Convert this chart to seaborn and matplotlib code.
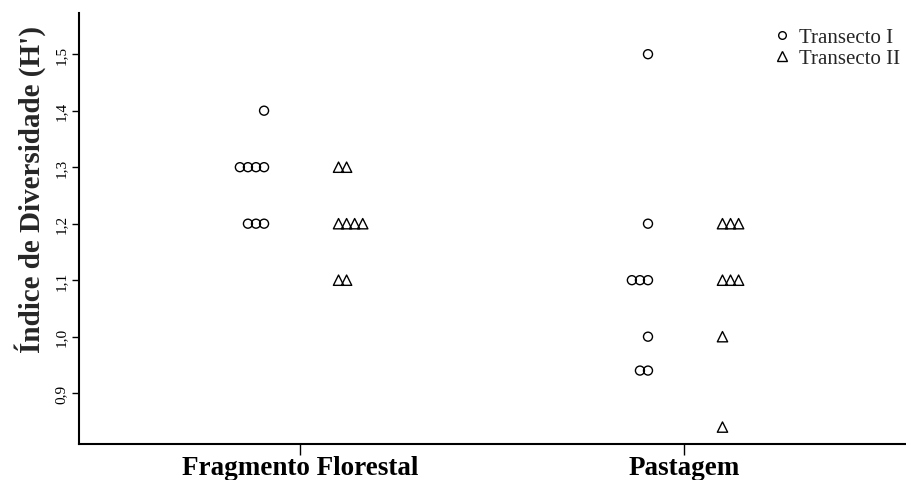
import numpy as np
import pandas as pd
import matplotlib
matplotlib.use("Agg")
import matplotlib.pyplot as plt
import seaborn as sns
from matplotlib.lines import Line2D

# ---- data ----
categories = ["Fragmento Florestal", "Pastagem"]
transects = ["Transecto I", "Transecto II"]
frag_t1 = [1.4, 1.3, 1.3, 1.3, 1.3, 1.2, 1.2, 1.2]
frag_t2 = [1.3, 1.3, 1.2, 1.2, 1.2, 1.2, 1.1, 1.1]
past_t1 = [1.5, 1.2, 1.1, 1.1, 1.1, 1.0, 0.94, 0.94]
past_t2 = [1.2, 1.2, 1.2, 1.1, 1.1, 1.1, 1.0, 0.84]
yticks = [0.9, 1.0, 1.1, 1.2, 1.3, 1.4, 1.5]
ytick_labels = ["0,9", "1,0", "1,1", "1,2", "1,3", "1,4", "1,5"]
ylabel = "Índice de Diversidade (H')"

sns.set_theme(style="ticks")
plt.rcParams["font.family"] = ["Liberation Serif", "DejaVu Serif"]

# build table with dot-plot stacking offsets
step = 0.021
rows = []
groups = {(0, 0): frag_t1, (0, 1): frag_t2, (1, 0): past_t1, (1, 1): past_t2}
for (ci, ti), vals in groups.items():
    seen = {}
    for v in vals:
        r = seen.get(v, 0)
        seen[v] = r + 1
        if ti == 0:
            xp = ci - 0.094 - r * step
        else:
            xp = ci + 0.100 + r * step
        rows.append({"Categoria": categories[ci], "Transecto": transects[ti],
                     "H": v, "xpos": xp})
df = pd.DataFrame(rows)

fig = plt.figure(figsize=(9.06, 4.81), dpi=100)
ax = fig.add_axes([0.0872, 0.0748, 0.9128, 0.8962])

sns.scatterplot(data=df[df["Transecto"] == transects[0]], x="xpos", y="H",
                marker="o", s=42, color="black", legend=False, ax=ax)
sns.scatterplot(data=df[df["Transecto"] == transects[1]], x="xpos", y="H",
                marker="^", s=55, color="black", legend=False, ax=ax)
for coll in ax.collections:
    coll.set_facecolor("none")
    coll.set_edgecolor("black")
    coll.set_linewidth(1.0)

ax.set_xlim(-0.576, 1.578)
ax.set_ylim(0.81, 1.573)
ax.set_xticks([0, 1])
ax.set_xticklabels(categories, fontsize=19.5, fontweight="bold")
ax.set_yticks(yticks)
ax.set_yticklabels(ytick_labels, fontsize=11, rotation=90, va="center")
ax.set_xlabel("")
ax.set_ylabel(ylabel, fontsize=21, fontweight="bold")
ax.yaxis.set_label_coords(-0.040, 0.592)
ax.tick_params(axis="x", length=8, width=1, pad=0, colors="black")
ax.tick_params(axis="y", length=5, width=1, pad=3, colors="black")
for side in ["top", "right"]:
    ax.spines[side].set_visible(False)
for side in ["left", "bottom"]:
    ax.spines[side].set_linewidth(1.5)
    ax.spines[side].set_color("black")

handles = [
    Line2D([], [], marker="o", linestyle="none", markersize=5.5,
           markerfacecolor="none", markeredgecolor="black", markeredgewidth=1),
    Line2D([], [], marker="^", linestyle="none", markersize=6.5,
           markerfacecolor="none", markeredgecolor="black", markeredgewidth=1),
]
ax.legend(handles, transects, loc="upper right", bbox_to_anchor=(1.003, 0.985),
          frameon=False, fontsize=15, handletextpad=0.2, labelspacing=0.05,
          borderaxespad=0.0, handlelength=1.2)

fig.savefig("out.png", dpi=100)
